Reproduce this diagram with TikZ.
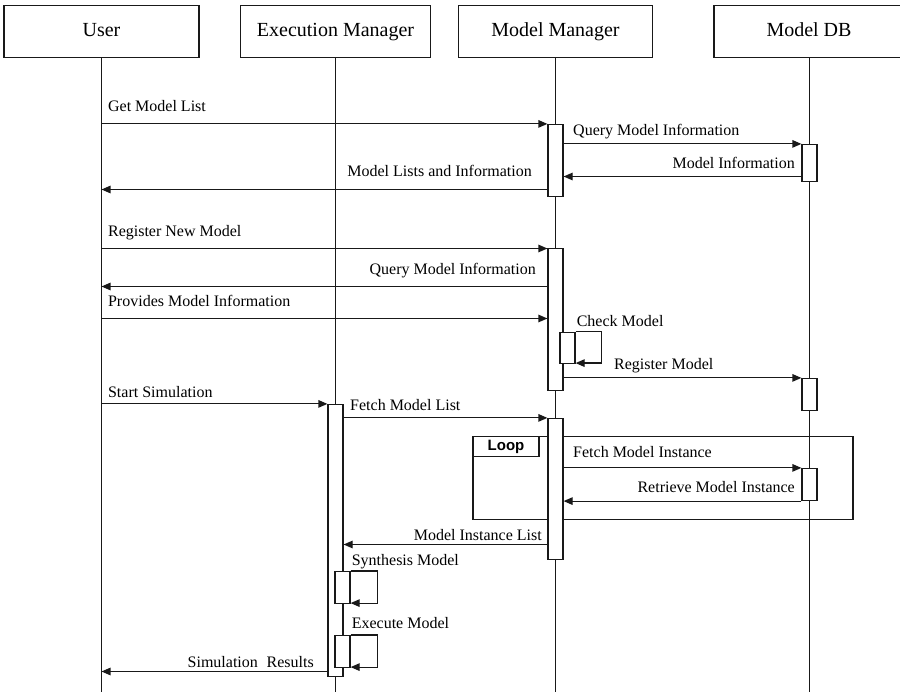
\documentclass[tikz,border=0pt]{standalone}
\usepackage{fontspec}
\setmainfont{Liberation Serif}
\newfontfamily\tagfont{Liberation Sans}
\usetikzlibrary{arrows.meta}

\tikzset{
  ink/.style={draw=black!90, line width=1.2pt},
  head/.style={ink, rectangle, minimum height=52pt, inner sep=0pt,
               text height=14pt, text depth=4pt,
               font=\fontsize{20}{23}\selectfont},
  lifeline/.style={ink},
  bar/.style={ink, fill=white, rectangle, minimum width=15pt, inner sep=0pt},
  msg/.style={ink, -{Triangle[length=9pt,width=7.5pt]}},
  lbl/.style={inner sep=0pt, font=\fontsize{16}{19}\selectfont},
  frame/.style={ink, rectangle, inner sep=0pt},
  tagbox/.style={ink, rectangle, inner sep=0pt, minimum width=66pt, minimum height=20pt,
                 font=\tagfont\bfseries\fontsize{15}{17}\selectfont}
}

\begin{document}
\begin{tikzpicture}[x=1pt, y=-1pt]
  \useasboundingbox (0,0) rectangle (900,692);
  \clip (0,0) rectangle (900,692);

  % participants
  \node[head, minimum width=195pt] (user) at (101.5,31.5) {User};
  \node[head, minimum width=190pt] (exec) at (335.5,31.5) {Execution Manager};
  \node[head, minimum width=194pt] (mm)   at (555.5,31.5) {Model Manager};
  \node[head, minimum width=196pt] (db)   at (812,31.5) {\hspace*{-6pt}Model DB};

  % ends of the lifelines
  \coordinate (userEnd) at (101.5,692);
  \coordinate (execEnd) at (335.5,692);
  \coordinate (mmEnd)   at (555.5,692);
  \coordinate (dbEnd)   at (809.5,692);
  \draw[lifeline] (user.south -| userEnd) -- (userEnd);
  \draw[lifeline] (exec.south -| execEnd) -- (execEnd);
  \draw[lifeline] (mm.south -| mmEnd) -- (mmEnd);
  \draw[lifeline] (db.south -| dbEnd) -- (dbEnd);

  % message levels
  \coordinate (m3)  at (0,176.5);
  \coordinate (m4)  at (0,189.5);
  \coordinate (m5)  at (0,248.5);
  \coordinate (m6)  at (0,286.5);
  \coordinate (m7)  at (0,318.5);
  \coordinate (m14) at (0,544.5);
  \coordinate (m17) at (0,671.5);

  % loop fragment
  \node[frame, minimum width=380pt, minimum height=83pt] (loop) at (663,478) {};
  \node[tagbox, anchor=north west] (looptag) at (loop.north west) {\raisebox{1pt}{Loop}};

  % activation bars
  \node[bar, minimum height=72pt]  (mm1) at (555.5,160.5) {};
  \node[bar, minimum height=37pt]  (db1) at (809.5,163) {};
  \node[bar, minimum height=142pt] (mm2) at (555.5,319.5) {};
  \node[bar, minimum height=31pt]  (chk) at (567.5,348) {};
  \node[bar, minimum height=32pt]  (db2) at (809.5,394.5) {};
  \node[bar, minimum height=272pt] (ex1) at (335.5,540.5) {};
  \node[bar, minimum height=141pt] (mm3) at (555.5,489) {};
  \node[bar, minimum height=32pt]  (db3) at (809.5,484.5) {};
  \node[bar, minimum height=32pt]  (syn) at (342.5,587.5) {};
  \node[bar, minimum height=32pt]  (exe) at (342.5,651.5) {};

  % model list query
  \draw[msg] (user |- mm1.north) -- (mm1.north west)
    node[lbl, anchor=base west, at start, xshift=6pt, yshift=12pt] {Get Model List};
  \draw[msg] (mm1.east |- db1.north) -- (db1.north west)
    node[lbl, anchor=base west, at start, xshift=9pt, yshift=8pt] {Query Model Information};
  \draw[msg] (db1.west |- m3) -- (mm1.east |- m3)
    node[lbl, anchor=base east, at start, xshift=-6pt, yshift=8pt] {Model Information};
  \draw[msg] (mm1.west |- m4) -- (user |- m4)
    node[lbl, anchor=base east, at start, xshift=-15pt, yshift=13pt] {Model Lists and Information};

  % model registration
  \draw[msg] (user |- m5) -- (mm2.west |- m5)
    node[lbl, anchor=base west, at start, xshift=6pt, yshift=12pt] {Register New Model};
  \draw[msg] (mm2.west |- m6) -- (user |- m6)
    node[lbl, anchor=base east, at start, xshift=-11pt, yshift=12pt] {Query Model Information};
  \draw[msg] (user |- m7) -- (mm2.west |- m7)
    node[lbl, anchor=base west, at start, xshift=6pt, yshift=12pt] {Provides Model Information};
  \draw[msg] (chk.north east) -- ++(26,0) |- ([yshift=1pt]chk.south east);
  \node[lbl, anchor=base west] (chkLbl) at ([xshift=1pt, yshift=5pt]chk.north east) {Check Model};
  \draw[msg] (mm2.east |- db2.north) -- (db2.north west)
    node[lbl, anchor=base west, at start, xshift=50pt, yshift=8pt] {Register Model};

  % simulation run
  \draw[msg] (user |- ex1.north) -- (ex1.north west)
    node[lbl, anchor=base west, at start, xshift=6pt, yshift=6pt] {Start Simulation};
  \draw[msg] (ex1.east |- mm3.north) -- (mm3.north west)
    node[lbl, anchor=base west, at start, xshift=6pt, yshift=7pt] {Fetch Model List};
  \draw[msg] (mm3.east |- db3.north) -- (db3.north west)
    node[lbl, anchor=base west, at start, xshift=9pt, yshift=10pt] {Fetch Model Instance};
  \draw[msg] (db3.south west) -- (mm3.east |- db3.south)
    node[lbl, anchor=base east, at start, xshift=-6pt, yshift=9pt] {Retrieve Model Instance};
  \draw[msg] (mm3.west |- m14) -- (ex1.east |- m14)
    node[lbl, anchor=base east, at start, xshift=-5pt, yshift=4pt] {Model Instance List};
  \draw[msg] (syn.north east) -- ++(27,0) |- ([yshift=1pt]syn.south east);
  \node[lbl, anchor=base west] (synLbl) at ([xshift=1pt, yshift=5pt]syn.north east) {Synthesis Model};
  \draw[msg] (exe.north east) -- ++(27,0) |- ([yshift=1pt]exe.south east);
  \node[lbl, anchor=base west] (exeLbl) at ([xshift=1pt, yshift=6pt]exe.north east) {Execute Model};
  \draw[msg] (ex1.west |- m17) -- (user |- m17)
    node[lbl, anchor=base east, at start, xshift=-13pt, yshift=4pt] {Simulation\hspace{0.3em} Results};
\end{tikzpicture}
\end{document}
